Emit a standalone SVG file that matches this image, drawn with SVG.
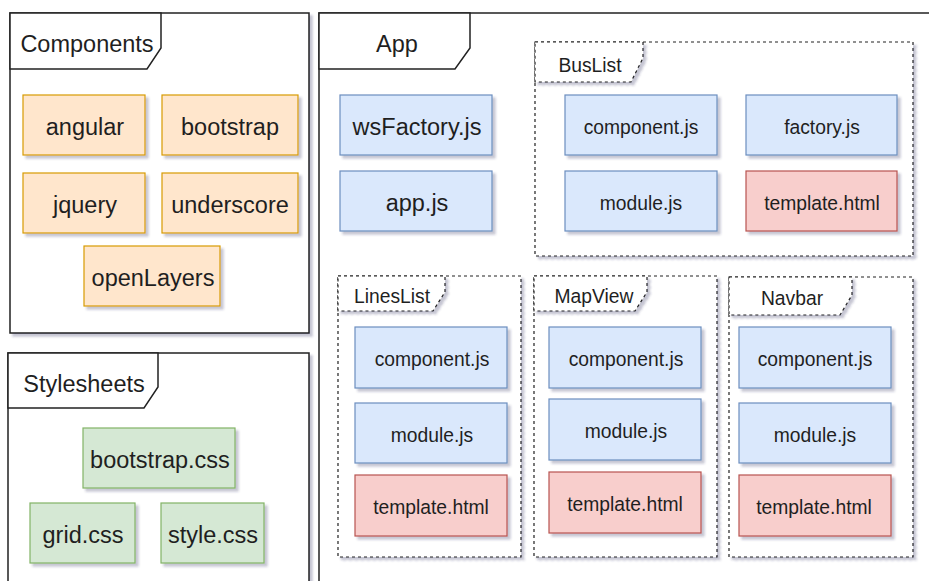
<svg xmlns="http://www.w3.org/2000/svg" width="929" height="581" viewBox="0 0 929 581">
<defs>
<filter id="sh" x="-10%" y="-10%" width="130%" height="130%">
<feDropShadow dx="3" dy="3" stdDeviation="1.2" flood-color="#2a2a60" flood-opacity="0.28"/>
</filter>
</defs>
<style>
text{font-family:"Liberation Sans",Arial,sans-serif;fill:#1f1f1f;text-anchor:middle}
.big{font-size:23.5px}
.sm{font-size:19.3px}
.frame{fill:#fff;stroke:#222;stroke-width:1.5}
.tab{fill:#fff;stroke:#222;stroke-width:1.5}
.dframe{fill:#fff;stroke:#222;stroke-width:1.2;stroke-dasharray:3 3}
.dtab{fill:#fff;stroke:#222;stroke-width:1.2;stroke-dasharray:3 3}
.or{fill:#ffe6cc;stroke:#d79b00;stroke-width:1.2}
.bl{fill:#dae8fc;stroke:#6c8ebf;stroke-width:1.2}
.gr{fill:#d5e8d4;stroke:#82b366;stroke-width:1.2}
.rd{fill:#f8cecc;stroke:#b85450;stroke-width:1.2}
</style>
<rect width="929" height="581" fill="#fff"/>

<g id="components">
<rect class="frame" x="10" y="13" width="299" height="320" filter="url(#sh)"/>
<polygon class="tab" points="10,13 161,13 161,48 147,69 10,69"/>
<text class="big" x="87" y="51.5">Components</text>
</g>
<g id="angular"><rect class="or" x="23" y="95" width="122" height="60" filter="url(#sh)"/><text class="big" x="85" y="135">angular</text></g>
<g id="bootstrap"><rect class="or" x="162" y="95" width="136" height="60" filter="url(#sh)"/><text class="big" x="230" y="135">bootstrap</text></g>
<g id="jquery"><rect class="or" x="23" y="173" width="122" height="60" filter="url(#sh)"/><text class="big" x="85" y="213">jquery</text></g>
<g id="underscore"><rect class="or" x="162" y="173" width="136" height="60" filter="url(#sh)"/><text class="big" x="230" y="213">underscore</text></g>
<g id="openLayers"><rect class="or" x="84" y="246" width="136" height="60" filter="url(#sh)"/><text class="big" x="153" y="286">openLayers</text></g>

<g id="stylesheets">
<rect class="frame" x="8" y="353" width="301" height="260" filter="url(#sh)"/>
<polygon class="tab" points="8,353 158,353 158,387 144,408 8,408"/>
<text class="big" x="84" y="391.5">Stylesheets</text>
</g>
<g id="bootstrap-css"><rect class="gr" x="83" y="428" width="152" height="60" filter="url(#sh)"/><text class="big" x="160" y="468">bootstrap.css</text></g>
<g id="grid-css"><rect class="gr" x="30" y="503" width="105" height="60" filter="url(#sh)"/><text class="big" x="83" y="543">grid.css</text></g>
<g id="style-css"><rect class="gr" x="161" y="503" width="103" height="60" filter="url(#sh)"/><text class="big" x="213" y="543">style.css</text></g>

<g id="app">
<rect class="frame" x="319" y="13" width="620" height="600" filter="url(#sh)"/>
<polygon class="tab" points="319,13 470,13 470,48 455,69 319,69"/>
<text class="big" x="397" y="51.5">App</text>
</g>
<g id="wsFactory"><rect class="bl" x="340" y="95" width="152" height="60" filter="url(#sh)"/><text class="big" x="417" y="135">wsFactory.js</text></g>
<g id="app-js"><rect class="bl" x="340" y="171" width="152" height="60" filter="url(#sh)"/><text class="big" x="417" y="211">app.js</text></g>

<g id="buslist">
<rect class="dframe" x="535" y="42" width="378" height="214" filter="url(#sh)"/>
<polygon class="dtab" points="535,42 643,42 643,58 631,82 535,82" filter="url(#sh)"/>
<text class="sm" x="590" y="72">BusList</text>
</g>
<g id="buslist-component"><rect class="bl" x="565" y="95" width="152" height="60" filter="url(#sh)"/><text class="sm" x="641" y="133.5">component.js</text></g>
<g id="buslist-factory"><rect class="bl" x="746" y="95" width="151" height="60" filter="url(#sh)"/><text class="sm" x="822" y="133.5">factory.js</text></g>
<g id="buslist-module"><rect class="bl" x="565" y="171" width="152" height="60" filter="url(#sh)"/><text class="sm" x="641" y="209.5">module.js</text></g>
<g id="buslist-template"><rect class="rd" x="746" y="171" width="151" height="60" filter="url(#sh)"/><text class="sm" x="822" y="209.5">template.html</text></g>

<g id="lineslist">
<rect class="dframe" x="338" y="276" width="183" height="281" filter="url(#sh)"/>
<polygon class="dtab" points="338,276 445,276 445,292 433,311 338,311" filter="url(#sh)"/>
<text class="sm" x="392" y="303">LinesList</text>
</g>
<g id="lineslist-component"><rect class="bl" x="355" y="327" width="152" height="61" filter="url(#sh)"/><text class="sm" x="432" y="366">component.js</text></g>
<g id="lineslist-module"><rect class="bl" x="355" y="403" width="152" height="60" filter="url(#sh)"/><text class="sm" x="432" y="441.5">module.js</text></g>
<g id="lineslist-template"><rect class="rd" x="355" y="475" width="152" height="61" filter="url(#sh)"/><text class="sm" x="431" y="514">template.html</text></g>

<g id="mapview">
<rect class="dframe" x="534" y="276" width="183" height="281" filter="url(#sh)"/>
<polygon class="dtab" points="534,276 647,276 647,292 635,311 534,311" filter="url(#sh)"/>
<text class="sm" x="594" y="303">MapView</text>
</g>
<g id="mapview-component"><rect class="bl" x="549" y="327" width="152" height="61" filter="url(#sh)"/><text class="sm" x="626" y="366">component.js</text></g>
<g id="mapview-module"><rect class="bl" x="549" y="399" width="152" height="61" filter="url(#sh)"/><text class="sm" x="626" y="438">module.js</text></g>
<g id="mapview-template"><rect class="rd" x="549" y="472" width="152" height="61" filter="url(#sh)"/><text class="sm" x="625" y="511">template.html</text></g>

<g id="navbar">
<rect class="dframe" x="729" y="277" width="184" height="280" filter="url(#sh)"/>
<polygon class="dtab" points="729,277 852,277 852,295 840,315 729,315" filter="url(#sh)"/>
<text class="sm" x="792" y="305">Navbar</text>
</g>
<g id="navbar-component"><rect class="bl" x="739" y="327" width="152" height="61" filter="url(#sh)"/><text class="sm" x="815" y="366">component.js</text></g>
<g id="navbar-module"><rect class="bl" x="739" y="403" width="152" height="60" filter="url(#sh)"/><text class="sm" x="815" y="441.5">module.js</text></g>
<g id="navbar-template"><rect class="rd" x="739" y="475" width="152" height="61" filter="url(#sh)"/><text class="sm" x="814" y="514">template.html</text></g>

<g id="connectors"></g>
</svg>
